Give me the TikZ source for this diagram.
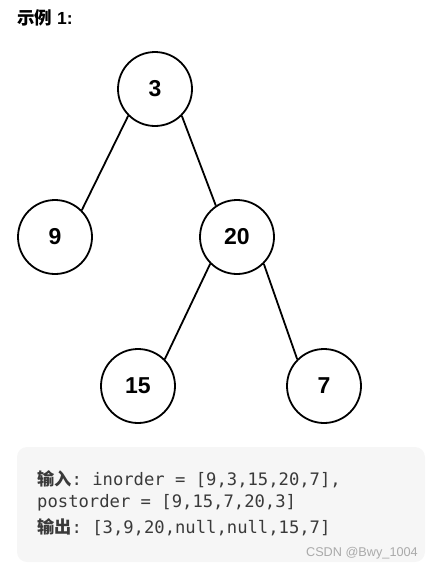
\documentclass[tikz,border=0pt]{standalone}
\usepackage{xcolor}
\usepackage{fontspec}
\usepackage{tikz}
\usetikzlibrary{positioning,calc}
\setmainfont{Liberation Sans}
\setmonofont{DejaVu Sans Mono}
\newfontfamily\cjk{Noto Sans CJK SC}
\definecolor{codegray}{RGB}{58,58,58}
\definecolor{boxfill}{RGB}{246,246,246}
\definecolor{markgray}{RGB}{170,170,170}
\newcommand{\lbl}[1]{{\cjk\bfseries #1}}
\tikzset{
  treenode/.style ={circle, draw=black, line width=1.8pt, minimum size=74pt, inner sep=0pt,
                    font=\fontsize{23}{27}\selectfont\bfseries},
  link/.style     ={line width=1.8pt, draw=black},
  codeline/.style ={anchor=west, inner sep=0pt, text=codegray,
                    font=\fontsize{17.2}{20}\selectfont\ttfamily},
}

\begin{document}
\begin{tikzpicture}[x=1pt, y=-1pt]
\useasboundingbox (0,0) rectangle (434,571);

\node[anchor=west, inner sep=0pt, font=\fontsize{17.5}{20}\selectfont\bfseries] (title) at (17,18)
  {\lbl{示例} 1:};

% the tree
\node[treenode] (n3)  at (155,89)  {3};
\node[treenode] (n9)  at (55,237)  {9};
\node[treenode] (n20) at (237,237) {20};
\node[treenode] (n15) at (138,386) {15};
\node[treenode] (n7)  at (324,386) {7};
\foreach \x/\y in {n3.south west/n9.north east, n3.south east/n20.124,
                   n20.south west/n15.north east, n20.south east/n7.north west}
  \draw[link] (\x) -- (\y);

% the example box
\fill[boxfill, rounded corners=10pt] (17,447) rectangle (425,562);
\node[codeline] (l1) at (37,479) {\lbl{输入}: inorder = [9,3,15,20,7],};
\node[codeline] (l2) at (37,503) {postorder = [9,15,7,20,3]};
\node[codeline] (l3) at (37,527) {\lbl{输出}: [3,9,20,null,null,15,7]};
\node[anchor=east, inner sep=0pt, text=markgray, font=\fontsize{12.7}{15}\selectfont] (mark) at (418,553)
  {CSDN @Bwy\_1004};
\end{tikzpicture}
\end{document}
